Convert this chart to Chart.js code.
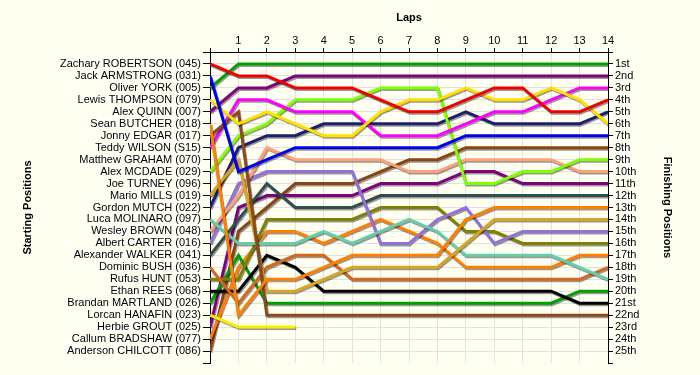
<!DOCTYPE html>
<html>
<head>
<meta charset="utf-8">
<script src="https://cdn.jsdelivr.net/npm/chart.js@4.4.1/dist/chart.umd.min.js"></script>
<style>
  html, body { margin: 0; padding: 0; background: #fffff2; }
  canvas { display: block; }
</style>
</head>
<body>
<canvas id="lapChart" width="700" height="375"></canvas>
<script>
(function () {
  'use strict';

  // Vueltas 0..14 (0 = parrilla de salida)
  var LAPS = [0, 1, 2, 3, 4, 5, 6, 7, 8, 9, 10, 11, 12, 13, 14];

  var DRIVERS = [
    'Zachary ROBERTSON (045)', 'Jack ARMSTRONG (031)', 'Oliver YORK (005)', 'Lewis THOMPSON (079)',
    'Alex QUINN (007)', 'Sean BUTCHER (018)', 'Jonny EDGAR (017)', 'Teddy WILSON (S15)',
    'Matthew GRAHAM (070)', 'Alex MCDADE (029)', 'Joe TURNEY (096)', 'Mario MILLS (019)',
    'Gordon MUTCH (022)', 'Luca MOLINARO (097)', 'Wesley BROWN (048)', 'Albert CARTER (016)',
    'Alexander WALKER (041)', 'Dominic BUSH (036)', 'Rufus HUNT (053)', 'Ethan REES (068)',
    'Brandan MARTLAND (026)', 'Lorcan HANAFIN (023)', 'Herbie GROUT (025)', 'Callum BRADSHAW (077)',
    'Anderson CHILCOTT (086)'
  ];

  var FINISH_LABELS = [
    '1st', '2nd', '3rd', '4th', '5th', '6th', '7th', '8th', '9th', '10th', '11th', '12th', '13th',
    '14th', '15th', '16th', '17th', '18th', '19th', '20th', '21st', '22nd', '23rd', '24th', '25th'
  ];

  // Posición en cada vuelta, por piloto (orden de salida)
  var POS_ROBERTSON = [1, 2, 2, 3, 3, 3, 4, 5, 5, 4, 3, 3, 5, 5, 4];
  var POS_ARMSTRONG = [2, 10, 9, 8, 8, 8, 8, 8, 8, 7, 7, 7, 7, 7, 7];
  var POS_YORK      = [3, 1, 1, 1, 1, 1, 1, 1, 1, 1, 1, 1, 1, 1, 1];
  var POS_THOMPSON  = [4, 6, 5, 6, 7, 7, 5, 4, 4, 3, 4, 4, 3, 4, 6];
  var POS_QUINN     = [5, 3, 3, 2, 2, 2, 2, 2, 2, 2, 2, 2, 2, 2, 2];
  var POS_BUTCHER   = [6, 22, 19, 19, 18, 17, 17, 17, 17, 14, 13, 13, 13, 13, 13];
  var POS_EDGAR     = [7, 5, 22, 22, 22, 22, 22, 22, 22, 22, 22, 22, 22, 22, 22];
  var POS_WILSON    = [8, 4, 4, 5, 5, 5, 7, 7, 7, 6, 5, 5, 4, 3, 3];
  var POS_GRAHAM    = [];
  var POS_MCDADE    = [10, 7, 6, 4, 4, 4, 3, 3, 3, 11, 11, 10, 10, 9, 9];
  var POS_TURNEY    = [];
  var POS_MILLS     = [12, 9, 20, 20, 19, 18, 18, 18, 18, 16, 14, 14, 14, 14, 14];
  var POS_MUTCH     = [13, 8, 7, 7, 6, 6, 6, 6, 6, 5, 6, 6, 6, 6, 5];
  var POS_MOLINARO  = [14, 16, 16, 16, 15, 16, 15, 14, 15, 17, 17, 17, 17, 18, 19];
  var POS_BROWN     = [15, 12, 8, 9, 9, 9, 9, 10, 10, 9, 9, 9, 9, 10, 10];
  var POS_CARTER    = [16, 11, 10, 10, 10, 10, 16, 16, 14, 13, 16, 15, 15, 15, 15];
  var POS_WALKER    = [17, 14, 11, 13, 13, 13, 12, 12, 12, 12, 12, 12, 12, 12, 12];
  var POS_BUSH      = [18, 21, 18, 17, 17, 19, 19, 19, 19, 19, 19, 19, 19, 19, 18];
  var POS_HUNT      = [19, 19, 14, 14, 14, 14, 13, 13, 13, 15, 15, 16, 16, 16, 16];
  var POS_REES      = [20, 20, 17, 18, 20, 20, 20, 20, 20, 20, 20, 20, 20, 21, 21];
  var POS_MARTLAND  = [21, 17, 21, 21, 21, 21, 21, 21, 21, 21, 21, 21, 21, 20, 20];
  var POS_HANAFIN   = [22, 23, 23, 23];
  var POS_GROUT     = [23, 13, 12, 12, 12, 12, 11, 11, 11, 10, 10, 11, 11, 11, 11];
  var POS_BRADSHAW  = [24, 18, 15, 15, 16, 15, 14, 15, 16, 18, 18, 18, 18, 17, 17];
  var POS_CHILCOTT  = [25, 15, 13, 11, 11, 11, 10, 9, 9, 8, 8, 8, 8, 8, 8];

  var POSITIONS = [
    POS_ROBERTSON, POS_ARMSTRONG, POS_YORK, POS_THOMPSON, POS_QUINN, POS_BUTCHER, POS_EDGAR,
    POS_WILSON, POS_GRAHAM, POS_MCDADE, POS_TURNEY, POS_MILLS, POS_MUTCH, POS_MOLINARO, POS_BROWN,
    POS_CARTER, POS_WALKER, POS_BUSH, POS_HUNT, POS_REES, POS_MARTLAND, POS_HANAFIN, POS_GROUT,
    POS_BRADSHAW, POS_CHILCOTT
  ];

  var COLORS = [
    '#f00000', '#0000f0', '#00a000', '#ffe000', '#800080', '#ff8000', '#8b4a1b', '#ff00ff',
    '#808080', '#80ff00', '#808080', '#daa520', '#1e1e6e', '#66cdaa', '#ffa07a', '#9370db',
    '#2f4f4f', '#d2691e', '#808000', '#000000', '#00a000', '#f8f000', '#800080', '#ff8000',
    '#8b4513'
  ];

  var BG = '#fffff2';
  var COLOR_GRID = '#e2e2e2';
  var COLOR_TEXT = '#000010';
  var FONT = '"Liberation Sans", Arial, sans-serif';

  var datasets = [];
  POSITIONS.forEach(function (serie, i) {
    if (!serie.length) return;
    datasets.push({
      label: DRIVERS[i],
      data: serie.map(function (p, k) { return { x: LAPS[k], y: p }; }),
      borderColor: COLORS[i],
      backgroundColor: COLORS[i],
      borderWidth: 3,
      pointRadius: 0,
      tension: 0,
      fill: false
    });
  });

  function posTicks(scale) {
    var t = [];
    for (var v = 0; v <= 26; v++) t.push({ value: v });
    scale.ticks = t;
  }

  function gridColor(ctx) {
    var v = ctx.tick ? ctx.tick.value : null;
    return (v === 0 || v === 26) ? 'rgba(0,0,0,0)' : COLOR_GRID;
  }

  var background = {
    id: 'background',
    beforeDraw: function (chart) {
      var c = chart.ctx;
      c.save();
      c.fillStyle = BG;
      c.fillRect(0, 0, chart.width, chart.height);
      c.restore();
    }
  };

  var lineShadow = {
    id: 'lineShadow',
    beforeDatasetsDraw: function (chart) {
      var c = chart.ctx;
      c.save();
      c.shadowColor = 'rgba(0,0,0,0.4)';
      c.shadowOffsetX = 1;
      c.shadowOffsetY = 1.5;
      c.shadowBlur = 0;
    },
    afterDatasetsDraw: function (chart) {
      chart.ctx.restore();
    }
  };

  new Chart(document.getElementById('lapChart').getContext('2d'), {
    type: 'line',
    data: { datasets: datasets },
    plugins: [background, lineShadow],
    options: {
      responsive: false,
      animation: false,
      devicePixelRatio: 1,
      layout: { padding: { left: 0, right: 0, top: 0, bottom: 12 } },
      plugins: {
        legend: { display: false },
        tooltip: { enabled: false }
      },
      scales: {
        x: {
          type: 'linear',
          position: 'top',
          min: 0,
          max: 14,
          afterFit: function (s) { s.height = 52; },
          grid: { color: COLOR_GRID, tickColor: '#000', tickLength: 4 },
          border: { color: '#000', width: 1 },
          ticks: {
            stepSize: 1,
            autoSkip: false,
            maxRotation: 0,
            padding: 0,
            color: COLOR_TEXT,
            font: { family: FONT, size: 11 },
            callback: function (v) { return v === 0 ? '' : String(v); }
          },
          title: {
            display: true,
            text: 'Laps',
            color: '#000',
            font: { family: FONT, size: 11, weight: 'bold' },
            padding: { top: 11, bottom: 0 }
          }
        },
        y: {
          type: 'linear',
          position: 'left',
          min: 0,
          max: 26,
          reverse: true,
          afterBuildTicks: posTicks,
          afterFit: function (s) { s.width = 210; },
          grid: { color: gridColor, tickColor: '#000', tickLength: 7 },
          border: { color: '#000', width: 1 },
          ticks: {
            autoSkip: false,
            padding: 2,
            color: COLOR_TEXT,
            font: { family: FONT, size: 11 },
            callback: function (v) { return (v >= 1 && v <= 25) ? DRIVERS[v - 1] : ''; }
          },
          title: {
            display: true,
            text: 'Starting Positions',
            color: '#000',
            font: { family: FONT, size: 11, weight: 'bold' },
            padding: { top: 21, bottom: 0 }
          }
        },
        yRight: {
          type: 'linear',
          position: 'right',
          min: 0,
          max: 26,
          reverse: true,
          afterBuildTicks: posTicks,
          afterFit: function (s) { s.width = 92; },
          grid: { drawOnChartArea: false, tickColor: '#000', tickLength: 5 },
          border: { color: '#000', width: 1 },
          ticks: {
            autoSkip: false,
            padding: 2,
            color: COLOR_TEXT,
            font: { family: FONT, size: 11 },
            callback: function (v) { return (v >= 1 && v <= 25) ? FINISH_LABELS[v - 1] : ''; }
          },
          title: {
            display: true,
            text: 'Finishing Positions',
            color: '#000',
            font: { family: FONT, size: 11, weight: 'bold' },
            padding: { top: 26, bottom: 0 }
          }
        }
      }
    }
  });
})();
</script>
</body>
</html>
